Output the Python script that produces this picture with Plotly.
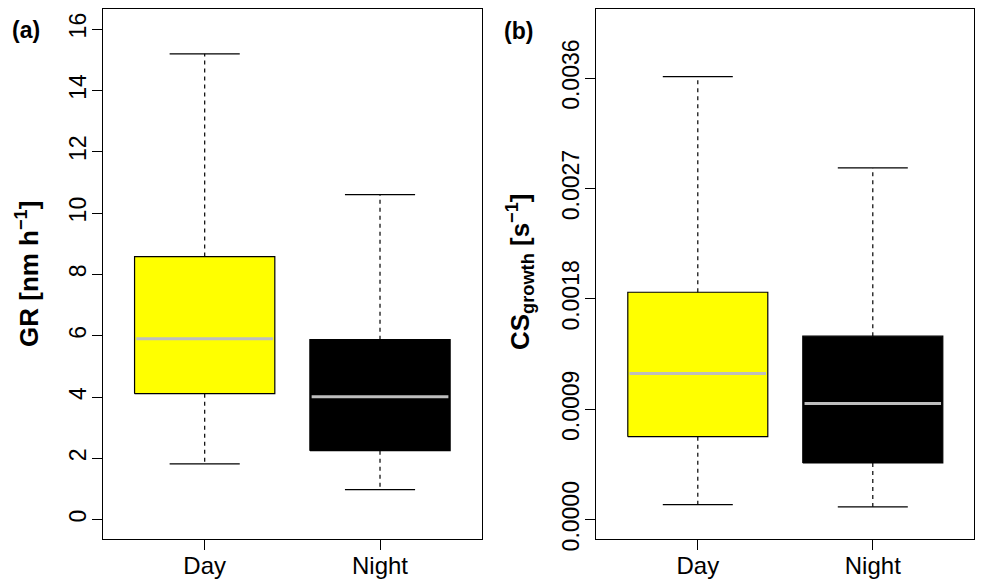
import plotly.graph_objects as go

# five-number summaries
groups = ["Day", "Night"]
box_fill = ["#FFFF00", "#000000"]

gr_low = [1.82, 0.98]
gr_q1 = [4.11, 2.25]
gr_med = [5.90, 4.01]
gr_q3 = [8.58, 5.87]
gr_high = [15.19, 10.60]

cs_low = [0.000123, 0.000105]
cs_q1 = [0.000677, 0.000463]
cs_med = [0.001192, 0.000947]
cs_q3 = [0.001854, 0.001496]
cs_high = [0.003612, 0.002868]

gr_ticks = [0, 2, 4, 6, 8, 10, 12, 14, 16]
cs_ticks = [0.0, 0.0009, 0.0018, 0.0027, 0.0036]
cs_ticktext = ["0.0000", "0.0009", "0.0018", "0.0027", "0.0036"]

FONT = "Liberation Sans, Arial, sans-serif"


def box_traces(low, q1, med, q3, high, xa, ya, half=0.4, cap=0.2):
    """R-style boxplot: filled box, grey median, dashed whiskers, caps"""
    traces = []
    for i, name in enumerate(groups):
        p = i + 1
        traces.append(go.Scatter(
            x=[p - half, p + half, p + half, p - half, p - half],
            y=[q1[i], q1[i], q3[i], q3[i], q1[i]],
            mode="lines", fill="toself", fillcolor=box_fill[i],
            line=dict(color="black", width=1.2),
            xaxis=xa, yaxis=ya, showlegend=False, hoverinfo="skip"))
        traces.append(go.Scatter(
            x=[p - half + 0.01, p + half - 0.01], y=[med[i], med[i]],
            mode="lines", line=dict(color="#BEBEBE", width=3),
            xaxis=xa, yaxis=ya, showlegend=False, hoverinfo="skip"))
        # whiskers
        traces.append(go.Scatter(
            x=[p, p, None, p, p], y=[q3[i], high[i], None, q1[i], low[i]],
            mode="lines", line=dict(color="black", width=1.2, dash="4px,4px"),
            xaxis=xa, yaxis=ya, showlegend=False, hoverinfo="skip"))
        # staples
        traces.append(go.Scatter(
            x=[p - cap, p + cap, None, p - cap, p + cap],
            y=[high[i], high[i], None, low[i], low[i]],
            mode="lines", line=dict(color="black", width=1.2),
            xaxis=xa, yaxis=ya, showlegend=False, hoverinfo="skip"))
    return traces


fig = go.Figure()
fig.add_traces(box_traces(gr_low, gr_q1, gr_med, gr_q3, gr_high, "x", "y"))
fig.add_traces(box_traces(cs_low, cs_q1, cs_med, cs_q3, cs_high, "x2", "y2"))

xcommon = dict(range=[0.42, 2.58], tickvals=[1, 2], ticktext=groups,
               showline=True, mirror=True, linecolor="black", linewidth=1.2,
               ticks="outside", ticklen=10, tickcolor="black", tickwidth=1.2,
               showgrid=False, zeroline=False, automargin=False,
               ticklabelstandoff=-5,
               tickfont=dict(family=FONT, size=24, color="black"))
ycommon = dict(showline=True, mirror=True, linecolor="black", linewidth=1.2,
               ticks="outside", ticklen=10, tickcolor="black", tickwidth=1.2,
               showgrid=False, zeroline=False, tickangle=-90, automargin=False,
               ticklabelstandoff=-3,
               tickfont=dict(family=FONT, size=23, color="black"))

ydom = [1 - 539.3 / 588, 1 - 9.4 / 588]
fig.update_layout(
    width=984, height=588,
    margin=dict(l=0, r=0, t=0, b=0),
    paper_bgcolor="white", plot_bgcolor="white",
    xaxis=dict(domain=[103 / 984, 481.7 / 984], anchor="y", **xcommon),
    yaxis=dict(domain=ydom, anchor="x", range=[-0.64, 16.64],
               tickvals=gr_ticks, **ycommon),
    xaxis2=dict(domain=[596.3 / 984, 974.3 / 984], anchor="y2", **xcommon),
    yaxis2=dict(domain=ydom, anchor="x2", range=[-0.00016, 0.00416],
                tickvals=cs_ticks, ticktext=cs_ticktext, **ycommon),
    annotations=[
        dict(text="<b>GR [nm h<sup>−1</sup>]</b>", textangle=-90,
             x=27 / 984, y=1 - 274 / 588, xref="paper", yref="paper",
             xanchor="center", yanchor="middle", showarrow=False,
             font=dict(family=FONT, size=26, color="black")),
        dict(text="<b>CS<sub>growth</sub> [s<sup>−1</sup>]</b>", textangle=-90,
             x=520 / 984, y=1 - 272 / 588, xref="paper", yref="paper",
             xanchor="center", yanchor="middle", showarrow=False,
             font=dict(family=FONT, size=26, color="black")),
        dict(text="<b>(a)</b>", x=26 / 984, y=1 - 30 / 588,
             xref="paper", yref="paper", xanchor="center", yanchor="middle",
             showarrow=False, font=dict(family=FONT, size=23, color="black")),
        dict(text="<b>(b)</b>", x=518 / 984, y=1 - 31 / 588,
             xref="paper", yref="paper", xanchor="center", yanchor="middle",
             showarrow=False, font=dict(family=FONT, size=23, color="black")),
    ],
)

# drop the browser's default body margin so the figure fills the window
fig.write_html("out.html", config={"displayModeBar": False},
               post_script="document.body.style.margin='0';")
